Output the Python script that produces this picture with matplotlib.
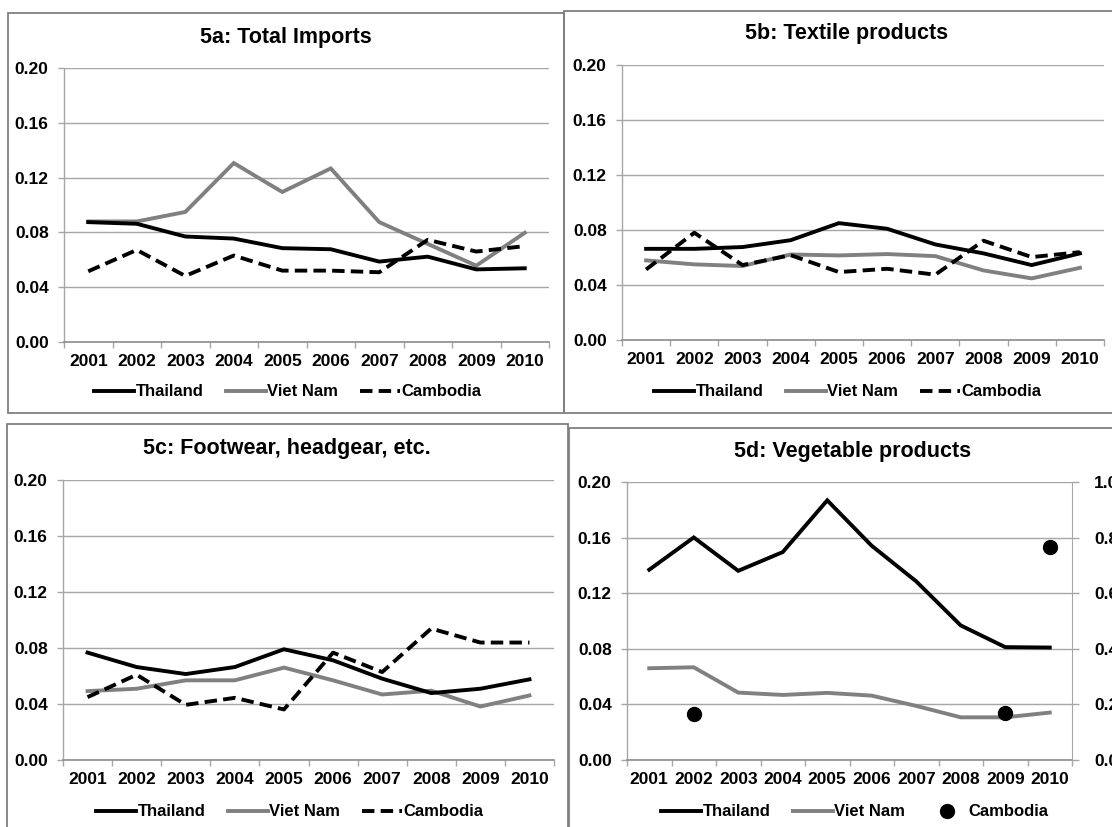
import numpy as np
import matplotlib
matplotlib.use("Agg")
import matplotlib.pyplot as plt
from matplotlib.patches import Rectangle
from matplotlib.lines import Line2D

plt.rcParams['font.family'] = ['Liberation Sans', 'DejaVu Sans']
plt.rcParams['font.weight'] = 'bold'

years = ['2001', '2002', '2003', '2004', '2005', '2006', '2007', '2008', '2009', '2010']

# 5a: Total Imports
a_thailand = [0.0875, 0.0863, 0.0770, 0.0755, 0.0685, 0.0677, 0.0587, 0.0623, 0.0530, 0.0538]
a_vietnam = [0.0880, 0.0880, 0.0949, 0.1306, 0.1095, 0.1267, 0.0875, 0.0716, 0.0557, 0.0797]
a_cambodia = [0.0516, 0.0672, 0.0482, 0.0631, 0.0521, 0.0521, 0.0509, 0.0746, 0.0660, 0.0700]

# 5b: Textile products
b_thailand = [0.0663, 0.0663, 0.0676, 0.0726, 0.0850, 0.0809, 0.0695, 0.0630, 0.0545, 0.0630]
b_vietnam = [0.0579, 0.0550, 0.0538, 0.0622, 0.0615, 0.0625, 0.0610, 0.0506, 0.0448, 0.0525]
b_cambodia = [0.0513, 0.0780, 0.0545, 0.0617, 0.0494, 0.0518, 0.0475, 0.0722, 0.0603, 0.0639]

# 5c: Footwear, headgear, etc.
c_thailand = [0.0767, 0.0664, 0.0614, 0.0664, 0.0791, 0.0712, 0.0581, 0.0478, 0.0509, 0.0576]
c_vietnam = [0.0492, 0.0509, 0.0569, 0.0569, 0.0660, 0.0569, 0.0468, 0.0495, 0.0382, 0.0461]
c_cambodia = [0.0449, 0.0609, 0.0394, 0.0444, 0.0361, 0.0767, 0.0628, 0.0939, 0.0839, 0.0839]

# 5d: Vegetable products (Cambodia on secondary axis)
d_thailand = [0.1369, 0.1601, 0.1361, 0.1496, 0.1868, 0.1541, 0.1285, 0.0968, 0.0812, 0.0809]
d_vietnam = [0.0660, 0.0667, 0.0485, 0.0468, 0.0483, 0.0463, 0.0389, 0.0307, 0.0307, 0.0341]
d_cambodia = [np.nan, 0.1645, np.nan, np.nan, np.nan, np.nan, np.nan, np.nan, 0.170, 0.765]

titles = ['5a: Total Imports', '5b: Textile products', '5c: Footwear, headgear, etc.', '5d: Vegetable products']
series_names = ['Thailand', 'Viet Nam', 'Cambodia']
yticks = [0.0, 0.04, 0.08, 0.12, 0.16, 0.20]
yticks2 = [0.0, 0.2, 0.4, 0.6, 0.8, 1.0]

W, H = 1112, 827
fig = plt.figure(figsize=(W / 100, H / 100), dpi=100)

GRAY_LINE = '#808080'
GRID = '#a6a6a6'
BOX = '#808080'
LW = 2.8
DASH = (3.2, 1.6)
FS = 12.5
LFS = 12
TFS = 15.5


def px_rect(x0, y0, x1, y1):
    return [x0 / W, 1 - y1 / H, (x1 - x0) / W, (y1 - y0) / H]


def box(x0, y0, x1, y1):
    l, b, w, h = px_rect(x0, y0, x1, y1)
    fig.patches.append(Rectangle((l, b), w, h, transform=fig.transFigure,
                                 fill=False, edgecolor=BOX, linewidth=1.3, zorder=0))


def fx(x):
    return x / W


def fy(y):
    return 1 - y / H


def setup_axes(ax):
    x = np.arange(1, 11)
    ax.set_xlim(0.5, 10.5)
    ax.set_ylim(0, 0.20)
    ax.set_yticks(yticks)
    ax.set_yticklabels([f'{v:.2f}' for v in yticks])
    ax.set_xticks(np.arange(0.5, 11.0, 1.0))
    ax.set_xticklabels([])
    ax.set_xticks(x, minor=True)
    ax.set_xticklabels(years, minor=True)
    ax.tick_params(axis='x', which='major', length=4, color=GRID, direction='out', width=1)
    ax.tick_params(axis='x', which='minor', length=0, pad=9, labelsize=FS)
    ax.tick_params(axis='y', length=4, color=GRID, width=1, pad=7, labelsize=FS)
    for s in ['top', 'right']:
        ax.spines[s].set_visible(False)
    ax.spines['left'].set_color(GRID)
    ax.spines['bottom'].set_color('#8c8c8c')
    ax.spines['left'].set_linewidth(1)
    ax.spines['bottom'].set_linewidth(1.2)
    ax.grid(axis='y', color=GRID, linewidth=1)
    ax.set_axisbelow(True)
    for t in ax.get_xticklabels(minor=True) + ax.get_yticklabels():
        t.set_fontweight('bold')
    return x


panels = [
    dict(box=(8, 13, 564, 413), ax=(64, 68, 549, 342), title=(286, 38), leg=(288, 392),
         data=(a_thailand, a_vietnam, a_cambodia)),
    dict(box=(564, 11, 1120, 413), ax=(622, 65, 1104, 340), title=(847, 34), leg=(848, 392),
         data=(b_thailand, b_vietnam, b_cambodia)),
    dict(box=(7, 424, 568, 835), ax=(63, 480, 554, 760), title=(287, 449), leg=(290, 812),
         data=(c_thailand, c_vietnam, c_cambodia)),
    dict(box=(569, 428, 1120, 835), ax=(627, 482, 1072, 760), title=(853, 452), leg=(855, 812),
         data=(d_thailand, d_vietnam, d_cambodia)),
]

for i, p in enumerate(panels):
    box(*p['box'])
    ax = fig.add_axes(px_rect(*p['ax']))
    x = setup_axes(ax)
    th, vn, cb = p['data']
    ax.plot(x, th, color='black', lw=LW, solid_joinstyle='miter', zorder=3)
    ax.plot(x, vn, color=GRAY_LINE, lw=LW, solid_joinstyle='miter', zorder=2)
    if i < 3:
        ax.plot(x, cb, color='black', lw=LW, linestyle=(0, DASH), zorder=3)
        cam_handle = Line2D([], [], color='black', lw=LW, linestyle=(0, DASH))
    else:
        ax2 = ax.twinx()
        ax2.set_ylim(0, 1.0)
        ax2.set_yticks(yticks2)
        ax2.set_yticklabels([f'{v:.2f}' for v in yticks2])
        ax2.tick_params(axis='y', length=5, color=GRID, width=1, pad=11, labelsize=FS)
        for t in ax2.get_yticklabels():
            t.set_fontweight('bold')
        for s in ['top', 'left', 'bottom']:
            ax2.spines[s].set_visible(False)
        ax2.spines['right'].set_color(GRID)
        ax2.plot(x, cb, linestyle='none', marker='o', markersize=10, color='black', zorder=4)
        cam_handle = Line2D([], [], linestyle='none', marker='o', markersize=10, color='black')
    fig.text(fx(p['title'][0]), fy(p['title'][1]), titles[i], ha='center', va='center',
             fontsize=TFS, fontweight='bold')
    handles = [Line2D([], [], color='black', lw=LW),
               Line2D([], [], color=GRAY_LINE, lw=LW),
               cam_handle]
    leg = fig.legend(handles, series_names, loc='center', ncol=3, frameon=False,
                     bbox_to_anchor=(fx(p['leg'][0]), fy(p['leg'][1])),
                     bbox_transform=fig.transFigure,
                     prop={'size': LFS, 'weight': 'bold'},
                     handlelength=2.4, handletextpad=0.1, columnspacing=1.3)

fig.savefig('out.png', dpi=100)
